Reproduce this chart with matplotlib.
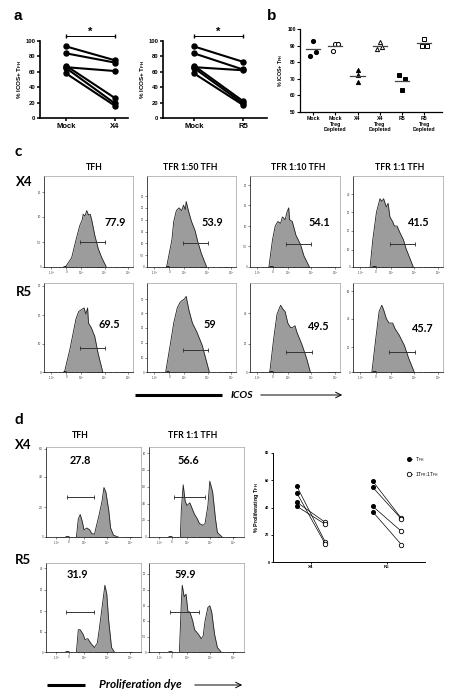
import numpy as np
import matplotlib.pyplot as plt
from matplotlib.lines import Line2D

W, H = 463, 698
plt.rcParams['font.family'] = ['Liberation Sans', 'DejaVu Sans']
plt.rcParams['mathtext.default'] = 'regular'
HEAD = ['Lato', 'DejaVu Sans']

# ---- panel a: % ICOS+ TFH, paired
a_mock = [93, 84, 66, 68, 65, 58]
a_x4 = [75, 72, 61, 26, 19, 16]
a_mock2 = [93, 84, 66, 68, 65, 58]
a_r5 = [73, 63, 62, 22, 19, 17]

# ---- panel b: scatter with means
b_cats = ['Mock', 'Mock\nTreg\nDepleted', 'X4', 'X4\nTreg\nDepleted', 'R5', 'R5\nTreg\nDepleted']
b_vals = [[84, 93, 86], [87, 91, 91], [75, 72, 68], [88, 92, 89], [72.5, 63, 70], [90, 94, 90]]
b_markers = ['o', 'o', '^', '^', 's', 's']
b_filled = [True, False, True, False, True, False]

# ---- panel c: ICOS histograms (x in % of axis width, height in fraction of axis)
c_cols = ['TFH', 'TFR 1:50 TFH', 'TFR 1:10 TFH', 'TFR 1:1 TFH']
c_rows = ['X4', 'R5']
c_pct = [['77.9', '53.9', '54.1', '41.5'], ['69.5', '59', '49.5', '45.7']]
c_x4_hist = [
    [(24, 0), (31, .1), (36, .3), (40, .45), (43, .52), (44, .58), (46, .56), (48, .62), (50, .57),
     (52, .58), (54, .5), (57, .35), (61, .2), (65, .1), (70, 0)],
    [(22, 0), (28, .3), (30, .5), (33, .62), (36, .65), (39, .62), (41, .68), (43, .63), (44, .72),
     (47, .6), (50, .5), (54, .4), (57, .28), (61, .15), (67, 0)],
    [(21, 0), (25, .3), (28, .45), (31, .5), (34, .48), (36, .55), (39, .52), (41, .6), (43, .65),
     (44, .52), (47, .5), (51, .35), (56, .25), (60, .12), (66, 0)],
    [(19, 0), (22, .3), (26, .6), (30, .75), (32, .72), (34, .75), (37, .66), (39, .7), (41, .55),
     (44, .5), (46, .45), (49, .45), (52, .38), (56, .3), (59, .2), (63, .1), (67, 0)],
]
c_r5_hist = [
    [(23, 0), (29, .25), (33, .45), (36, .6), (39, .68), (42, .7), (45, .72), (47, .65), (49, .72),
     (50, .55), (53, .5), (57, .4), (61, .2), (66, 0)],
    [(21, 0), (26, .3), (30, .55), (34, .72), (37, .78), (39, .8), (42, .82), (44, .85), (47, .7),
     (51, .55), (56, .45), (62, .3), (66, .15), (70, 0)],
    [(22, 0), (26, .35), (30, .65), (34, .75), (37, .7), (39, .68), (42, .55), (45, .5), (47, .5),
     (50, .52), (52, .45), (58, .3), (63, .15), (67, 0)],
    [(21, 0), (25, .35), (29, .68), (32, .75), (34, .7), (37, .6), (40, .55), (44, .55), (47, .48),
     (51, .42), (57, .3), (62, .15), (68, 0)],
]
c_gates = [[(41, 69, .28), (40, 68.5, .26), (40, 68, .25), (41, 69, .25)],
           [(41, 69, .27), (40, 68, .25), (40, 69, .23), (40, 69, .225)]]
c_yticks = [[(['0', '5.0', '10', '15'], [0, .27, .55, .82]),
             (['0', '5.0', '10', '15', '20', '25', '30'], [0, .13, .26, .39, .52, .65, .78]),
             (['0', '5.0', '10', '15', '20'], [0, .23, .45, .68, .9]),
             (['0', '10', '20', '30', '40'], [0, .19, .4, .6, .8])],
            [(['0', '10', '20', '30'], [0, .32, .64, .97]),
             (['0', '10', '20', '30', '40', '50'], [0, .16, .33, .5, .66, .82]),
             (['0', '20', '40'], [0, .32, .66]),
             (['0', '20', '40', '60'], [0, .28, .6, .91])]]

# ---- panel d: proliferation dye histograms + paired plot
d_cols = ['TFH', 'TFR 1:1 TFH']
d_pct = [['27.8', '56.6'], ['31.9', '59.9']]
d_x4_hist = [
    [(32, 0), (34, .2), (36, .25), (38, .18), (40, .08), (43, .1), (46, .08), (48, .04), (51, .03),
     (53, .12), (56, .25), (59, .4), (61, .55), (63, .5), (66, .3), (68, .1), (71, .02), (76, 0)],
    [(33, 0), (34, .3), (36, .58), (38, .4), (40, .35), (43, .38), (46, .3), (48, .25), (51, .2),
     (53, .15), (57, .13), (59, .15), (62, .35), (64, .62), (67, .5), (70, .2), (72, .05), (77, 0)],
]
d_r5_hist = [
    [(32, 0), (34, .25), (36, .25), (39, .2), (41, .14), (44, .15), (47, .1), (51, .05), (54, .1),
     (56, .25), (59, .5), (62, .75), (64, .65), (66, .35), (69, .05), (72, 0)],
    [(32, 0), (34, .55), (35, .75), (37, .62), (39, .65), (41, .45), (43, .45), (46, .35), (48, .25),
     (52, .2), (55, .15), (57, .18), (59, .35), (62, .5), (64, .52), (66, .45), (69, .2), (72, .05), (76, 0)],
]
d_gates = [[(22, 51, .45), (26, 59, .45)], [(21, 51, .45), (22, 53, .45)]]
d_yticks = [[(['0', '2.0', '4.0', '6.0'], [0, .33, .67, .98]),
             (['0', '2.0', '4.0', '6.0', '8.0', '10'], [0, .19, .37, .56, .75, .93])],
            [(['0', '10', '20', '30', '40'], [0, .23, .46, .7, .94]),
             (['0', '5.0', '10', '15', '20', '25'], [0, .17, .35, .52, .7, .88])]]
d_groups = ['X4', 'R5']
d_tfh = [[56, 51, 44, 41], [59.5, 55, 41, 37]]
d_tfr = [[14.4, 13, 29, 27.6], [32, 31.5, 22.5, 12.7]]

fig = plt.figure(figsize=(W / 100, H / 100), dpi=100)


def px_axes(x0, y0, x1, y1):
    return fig.add_axes([x0 / W, 1 - y1 / H, (x1 - x0) / W, (y1 - y0) / H])


def paired(ax, left, right, xlab, xlim):
    for a, b in zip(left, right):
        ax.plot([0, 1], [a, b], color='k', lw=1.5, marker='o', ms=3.6, clip_on=False)
    ax.set_xlim(*xlim)
    ax.set_ylim(0, 100)
    ax.set_yticks(range(0, 101, 20))
    ax.set_xticks([0, 1])
    ax.set_xticklabels(xlab, fontsize=5.5, fontweight='bold')
    for t in ax.get_yticklabels():
        t.set_fontsize(4.2)
        t.set_fontweight('bold')
    for s in ['top', 'right']:
        ax.spines[s].set_visible(False)
    for s in ['left', 'bottom']:
        ax.spines[s].set_linewidth(1.2)
    ax.tick_params(width=1.1, length=2.5, pad=1)
    ax.set_ylabel('% ICOS+ T$_{FH}$', fontsize=4.5, fontweight='bold', labelpad=1)
    ax.plot([0, 1], [106.5, 106.5], color='k', lw=0.7, marker='|', ms=3, clip_on=False)
    ax.text(0.5, 106, '*', ha='center', va='bottom', fontsize=8, fontweight='bold')


ax = px_axes(40, 41, 128, 118)
paired(ax, a_mock, a_x4, ['Mock', 'X4'], (-0.53, 1.27))
ax = px_axes(163, 41, 267, 118)
paired(ax, a_mock2, a_r5, ['Mock', 'R5'], (-0.63, 1.49))

# panel b
ax = px_axes(300, 29, 442, 112)
for i, vals in enumerate(b_vals):
    off = [0, 0, 0] if b_markers[i] == '^' and b_filled[i] else [-0.12, 0, 0.12]
    ax.plot(np.array(off) + i, vals, ls='none', marker=b_markers[i], ms=3.0, mew=0.7,
            mec='k', mfc='k' if b_filled[i] else 'white')
    ax.plot([i - 0.32, i + 0.32], [np.mean(vals)] * 2, color='#444', lw=0.9)
ax.set_xlim(-0.59, 5.8)
ax.set_ylim(50, 100)
ax.set_yticks(range(50, 101, 10))
ax.set_xticks(range(6))
ax.set_xticklabels(b_cats, fontsize=3.8, fontweight='bold', linespacing=1.1)
for t in ax.get_yticklabels():
    t.set_fontsize(3.6)
    t.set_fontweight('bold')
for s in ['top', 'right']:
    ax.spines[s].set_visible(False)
for s in ['left', 'bottom']:
    ax.spines[s].set_linewidth(0.9)
ax.tick_params(width=0.8, length=2, pad=1)
ax.set_ylabel('% ICOS+ T$_{FH}$', fontsize=3.8, fontweight='bold', labelpad=2)

minor = [42 + 26 * np.log10(k) for k in range(2, 10)] + [68 + 26 * np.log10(k) for k in range(2, 10)]
minor += [14, 18, 21, 29, 33, 37]


def hist_box(box, prof, gate, yt, major):
    ax = px_axes(*box)
    xs = [p[0] for p in prof]
    hs = [p[1] for p in prof]
    ax.fill_between(xs, hs, color='#9c9c9c', lw=0)
    ax.plot(xs, hs, color='#222', lw=0.6)
    ax.plot([major[1] - 4, major[1]], [0.004, 0.004], color='k', lw=1.8, solid_capstyle='butt')
    ax.plot([gate[0], gate[1]], [gate[2], gate[2]], color='#333', lw=0.7, marker='|', ms=2.5, mew=0.6)
    ax.set_xlim(0, 100)
    ax.set_ylim(0, 1.0)
    ax.set_xticks(major)
    ax.set_xticklabels(['-10$^3$', '0', '10$^3$', '10$^4$', '10$^5$'], fontsize=2)
    ax.set_xticks(minor if major[0] == 8 else [m - 2 for m in minor], minor=True)
    ax.set_yticks(yt[1])
    ax.set_yticklabels(yt[0], fontsize=2)
    ax.tick_params(length=1.2, width=0.4, pad=0.8, colors='#333')
    ax.tick_params(which='minor', length=0.8, width=0.3)
    for s in ['top', 'right']:
        ax.spines[s].set_color('#a0a0a0')
        ax.spines[s].set_linewidth(0.5)
    for s in ['left', 'bottom']:
        ax.spines[s].set_linewidth(0.5)
    return ax


c_x = [(44, 133), (147, 236), (250, 340), (353, 443)]
c_y = [(176, 267), (283, 372)]
c_num_pos = [[(115, 222), (212, 222), (319, 222), (419, 222)],
             [(109, 325), (210, 325), (319, 327), (423, 328)]]
for r, hists in enumerate([c_x4_hist, c_r5_hist]):
    for c in range(4):
        hist_box((c_x[c][0], c_y[r][0], c_x[c][1], c_y[r][1]), hists[c], c_gates[r][c],
                 c_yticks[r][c], [8, 25, 42, 68, 94])

d_x = [(46, 141), (149, 244)]
d_y = [(447, 537), (563, 652)]
d_num_pos = [[(80, 460), (188, 460)], [(77, 575), (185, 575)]]
for r, hists in enumerate([d_x4_hist, d_r5_hist]):
    for c in range(2):
        hist_box((d_x[c][0], d_y[r][0], d_x[c][1], d_y[r][1]), hists[c], d_gates[r][c],
                 d_yticks[r][c], [11, 24, 40, 64, 88])

# panel d paired plot
ax = px_axes(273, 453, 425, 562)
for g in range(2):
    for a, b in zip(d_tfh[g], d_tfr[g]):
        ax.plot([g + 1 - 0.19, g + 1 + 0.19], [a, b], color='k', lw=0.5)
        ax.plot(g + 1 - 0.19, a, 'o', color='k', ms=2.6)
        ax.plot(g + 1 + 0.19, b, 'o', mfc='white', mec='k', ms=3.2, mew=0.6)
ax.set_xlim(0.5, 2.5)
ax.set_ylim(0, 80)
ax.set_yticks(range(0, 81, 20))
ax.set_xticks([1, 2])
ax.set_xticklabels(d_groups, fontsize=3.2, fontweight='bold')
for t in ax.get_yticklabels():
    t.set_fontsize(2.8)
    t.set_fontweight('bold')
for s in ['top', 'right']:
    ax.spines[s].set_visible(False)
for s in ['left', 'bottom']:
    ax.spines[s].set_linewidth(0.7)
ax.tick_params(width=0.6, length=1.5, pad=1)
ax.set_ylabel('% Proliferating T$_{FH}$', fontsize=4, fontweight='bold', labelpad=3)
handles = [Line2D([], [], color='k', lw=0.5, marker='o', ms=2.6),
           Line2D([], [], color='k', lw=0.5, marker='o', ms=3.2, mfc='white', mew=0.6)]
ax.legend(handles, ['T$_{FH}$', '1T$_{FR}$:1T$_{FH}$'], loc='upper left', bbox_to_anchor=(0.85, 1.02),
          frameon=False, fontsize=3.5, handlelength=1.2, handletextpad=0.6, labelspacing=1.2)

# overlay with labels and arrows, in pixel coordinates
ov = fig.add_axes([0, 0, 1, 1])
ov.set_xlim(0, W)
ov.set_ylim(H, 0)
ov.axis('off')
ov.patch.set_visible(False)
for lab, x, y in [('a', 18, 16), ('b', 272, 16)]:
    ov.text(x, y, lab, fontsize=11, fontweight='bold', ha='center', va='center')
for lab, x, y in [('c', 18, 152), ('d', 19, 420)]:
    ov.text(x, y, lab, fontsize=11, fontweight='bold', ha='center', va='center', family=HEAD)
for lab, x in zip(c_cols, [94, 190, 298, 400]):
    ov.text(x, 168, lab, fontsize=6.3, fontweight='bold', ha='center', va='center', family=HEAD)
for lab, y in zip(c_rows, [182, 292]):
    ov.text(24, y, lab, fontsize=9.5, fontweight='bold', ha='center', va='center', family=HEAD)
for r in range(2):
    for c in range(4):
        x, y = c_num_pos[r][c]
        ov.text(x, y, c_pct[r][c], fontsize=7.8, fontweight='bold', ha='center', va='center', family=HEAD)
    for c in range(2):
        x, y = d_num_pos[r][c]
        ov.text(x, y, d_pct[r][c], fontsize=7.8, fontweight='bold', ha='center', va='center', family=HEAD)
for lab, x in zip(d_cols, [80, 193]):
    ov.text(x, 435, lab, fontsize=6.3, fontweight='bold', ha='center', va='center', family=HEAD)
for lab, y in zip(d_groups, [445, 560]):
    ov.text(23, y, lab, fontsize=9.5, fontweight='bold', ha='center', va='center', family=HEAD)

ov.plot([135, 222], [395, 395], color='k', lw=2.2, solid_capstyle='butt')
ov.text(242, 395, 'ICOS', fontsize=7.5, fontweight='bold', style='italic', ha='center', va='center', family=HEAD)
ov.annotate('', xy=(345, 395), xytext=(258, 395), arrowprops=dict(arrowstyle='->', lw=0.7, color='k'))
ov.plot([47, 85], [685, 685], color='k', lw=2.2, solid_capstyle='butt')
ov.text(140, 685, 'Proliferation dye', fontsize=8.5, fontweight='bold', style='italic', ha='center',
        va='center', family=HEAD)
ov.annotate('', xy=(245, 685), xytext=(192, 685), arrowprops=dict(arrowstyle='->', lw=0.7, color='k'))

fig.savefig('out.png', dpi=100)
